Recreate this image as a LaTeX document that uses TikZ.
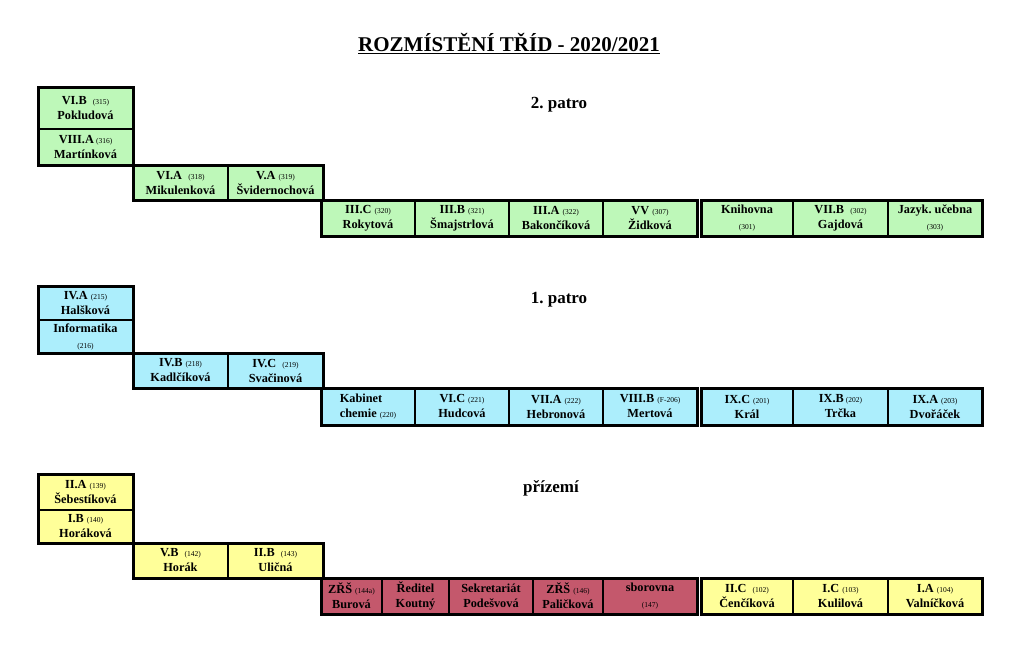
\documentclass[tikz,border=0pt]{standalone}
\usepackage{fontspec}
\setmainfont{Liberation Serif}
\frenchspacing
\definecolor{grn}{RGB}{190,248,185}
\definecolor{cyn}{RGB}{172,238,252}
\definecolor{ylw}{RGB}{255,255,153}
\definecolor{ros}{RGB}{196,88,108}
\tikzset{
  cellbox/.style={draw=black, line width=1.3pt, inner sep=0pt, outer sep=0pt, align=center,
    font=\fontsize{12.3}{15}\selectfont\bfseries},
  groupframe/.style={draw=black, line width=3pt},
  floorlabel/.style={font=\fontsize{17}{20}\selectfont\bfseries, anchor=base},
}
\newcommand\nm[1]{{\fontsize{7.5}{8}\selectfont\mdseries #1}}
\newcommand\roomcell[7]{\node[cellbox, fill=#6, minimum width={(#4-#2)*1pt}, minimum height={(#5-#3)*1pt}] (#1) at ({(#2+#4)/2},{(#3+#5)/2}) {#7};}
\begin{document}
\begin{tikzpicture}[x=1pt,y=-1pt]
\useasboundingbox (0,0) rectangle (1031,666);
\node[font=\fontsize{21}{24}\selectfont\bfseries, anchor=base] (title) at (509,52) {\underline{ROZMÍSTĚNÍ TŘÍD - 2020/2021}};
% ---------------- 2. patro
\node[floorlabel] (p2) at (559,108.5) {2. patro};
\roomcell{vib}{38}{88}{133}{129}{grn}{VI.B~~\nm{(315)}\\Pokludová}
\roomcell{viiia}{38}{129}{133}{166}{grn}{VIII.A\,\nm{(316)}\\Martínková}
\roomcell{via}{133}{166}{228}{200}{grn}{VI.A~~\nm{(318)}\\Mikulenková}
\roomcell{va}{228}{166}{323}{200}{grn}{V.A~\nm{(319)}\\Švidernochová}
\roomcell{iiic}{321}{200}{415}{236}{grn}{III.C~\nm{(320)}\\Rokytová}
\roomcell{iiib}{415}{200}{509}{236}{grn}{III.B~\nm{(321)}\\Šmajstrlová}
\roomcell{iiia}{509}{200}{603}{236}{grn}{III.A~\nm{(322)}\\Bakončíková}
\roomcell{vv}{603}{200}{697}{236}{grn}{VV~\nm{(307)}\\Židková}
\roomcell{knih}{701}{200}{793}{236}{grn}{Knihovna\\[1pt]\nm{(301)}}
\roomcell{viib}{793}{200}{888}{236}{grn}{VII.B~~\nm{(302)}\\Gajdová}
\roomcell{jazyk}{888}{200}{982}{236}{grn}{Jazyk. učebna\\[1pt]\nm{(303)}}
\draw[groupframe] (vib.north west) rectangle (viiia.south east);
\draw[groupframe] (via.north west) rectangle (va.south east);
\draw[groupframe] (iiic.north west) rectangle (vv.south east);
\draw[groupframe] (knih.north west) rectangle (jazyk.south east);
% ---------------- 1. patro
\node[floorlabel] (p1) at (559,303) {1. patro};
\roomcell{iva}{38}{286}{133}{320}{cyn}{IV.A~\nm{(215)}\\Halšková}
\roomcell{inf}{38}{320}{133}{353}{cyn}{Informatika\\[1pt]\nm{(216)}}
\roomcell{ivb}{133}{353}{228}{388}{cyn}{IV.B~\nm{(218)}\\Kadlčíková}
\roomcell{ivc}{228}{353}{323}{388}{cyn}{IV.C~~\nm{(219)}\\Svačinová}
\node[cellbox, fill=cyn, minimum width=94pt, minimum height=37pt, align=left] (kab) at (368,406.5) {Kabinet\\chemie~\nm{(220)}};
\roomcell{vic}{415}{388}{509}{425}{cyn}{VI.C~\nm{(221)}\\Hudcová}
\roomcell{viia}{509}{388}{603}{425}{cyn}{VII.A~\nm{(222)}\\Hebronová}
\roomcell{viiib}{603}{388}{697}{425}{cyn}{VIII.B~\nm{(F-206)}\\Mertová}
\roomcell{ixc}{701}{388}{793}{425}{cyn}{IX.C~\nm{(201)}\\Král}
\roomcell{ixb}{793}{388}{888}{425}{cyn}{IX.B\,\nm{(202)}\\Trčka}
\roomcell{ixa}{888}{388}{982}{425}{cyn}{IX.A~\nm{(203)}\\Dvořáček}
\draw[groupframe] (iva.north west) rectangle (inf.south east);
\draw[groupframe] (ivb.north west) rectangle (ivc.south east);
\draw[groupframe] (kab.north west) rectangle (viiib.south east);
\draw[groupframe] (ixc.north west) rectangle (ixa.south east);
% ---------------- přízemí
\node[floorlabel] (p0) at (551,492) {přízemí};
\roomcell{iia}{38}{474}{133}{510}{ylw}{II.A~\nm{(139)}\\Šebestíková}
\roomcell{ib}{38}{510}{133}{543}{ylw}{I.B~\nm{(140)}\\Horáková}
\roomcell{vb}{133}{543}{228}{578}{ylw}{V.B~~\nm{(142)}\\Horák}
\roomcell{iib}{228}{543}{323}{578}{ylw}{II.B~~\nm{(143)}\\Uličná}
\roomcell{zrsa}{321}{578}{382}{614}{ros}{ZŘŠ~\nm{(144a)}\\Burová}
\roomcell{red}{382}{578}{449}{614}{ros}{Ředitel\\Koutný}
\roomcell{sekr}{449}{578}{533}{614}{ros}{Sekretariát\\Podešvová}
\roomcell{zrsb}{533}{578}{603}{614}{ros}{ZŘŠ~\nm{(146)}\\Paličková}
\roomcell{sbor}{603}{578}{697}{614}{ros}{sborovna\\[1pt]\nm{(147)}}
\roomcell{iic}{701}{578}{793}{614}{ylw}{II.C~~\nm{(102)}\\Čenčíková}
\roomcell{ic}{793}{578}{888}{614}{ylw}{I.C~\nm{(103)}\\Kulilová}
\roomcell{ia}{888}{578}{982}{614}{ylw}{I.A~\nm{(104)}\\Valníčková}
\draw[groupframe] (iia.north west) rectangle (ib.south east);
\draw[groupframe] (vb.north west) rectangle (iib.south east);
\draw[groupframe] (zrsa.north west) rectangle (sbor.south east);
\draw[groupframe] (iic.north west) rectangle (ia.south east);
\end{tikzpicture}
\end{document}
